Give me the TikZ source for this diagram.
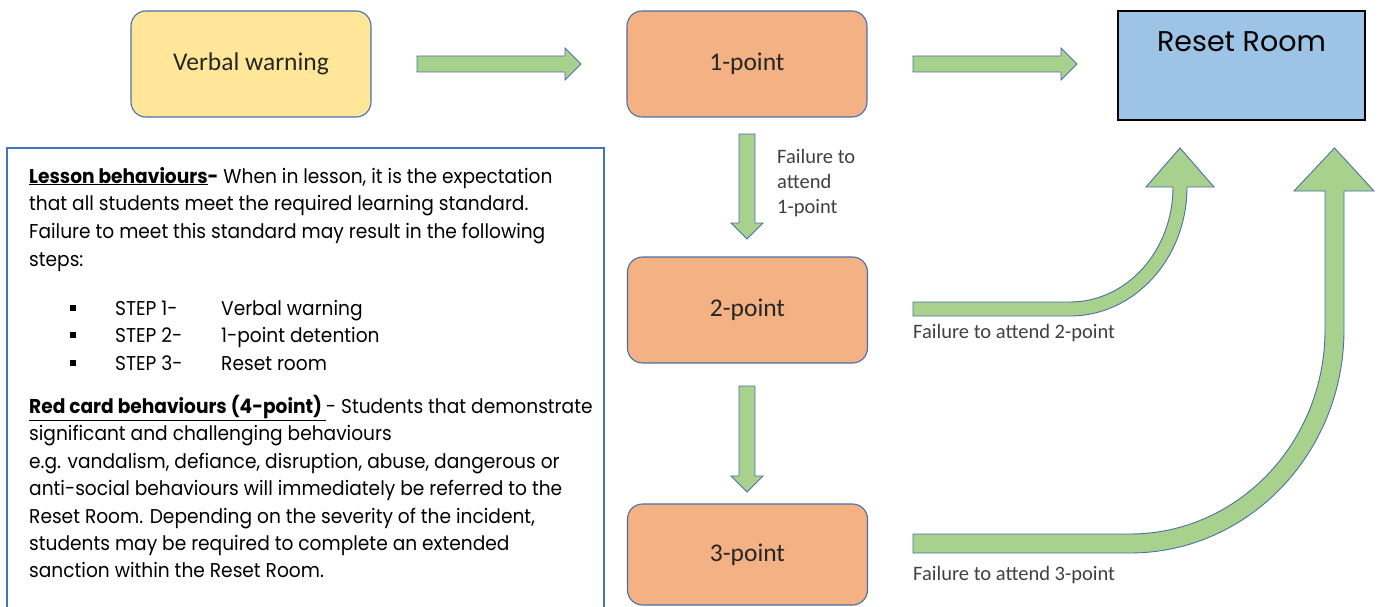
\documentclass[tikz,border=0pt]{standalone}
\usepackage{fontspec}
\setmainfont{Carlito}
\newfontfamily\gothic[FakeStretch=0.93]{Poppins}
\newfontfamily\gothicwide{Poppins}
\definecolor{yellowfill}{HTML}{FFE699}
\definecolor{orangefill}{HTML}{F4B183}
\definecolor{bluefill}{HTML}{9DC3E6}
\definecolor{greenfill}{HTML}{A9D18E}
\definecolor{outline}{HTML}{4A6FA5}
\definecolor{framecol}{HTML}{4472C4}
\definecolor{txt}{HTML}{262626}
\definecolor{lbl}{HTML}{404040}
\begin{document}
\begin{tikzpicture}[x=1pt,y=1pt,
  flowbox/.style={draw=outline, line width=1.1pt, rounded corners=15pt, minimum width=240pt, minimum height=106pt, inner sep=0pt, font=\fontsize{25.5}{30}\selectfont, text=txt},
  blockarrow/.style={draw=outline, line width=0.9pt, fill=greenfill, line join=miter},
  para/.style={anchor=base west, inner sep=0pt, font=\gothic\fontsize{20}{24}\selectfont, text=black},
  flabel/.style={anchor=base west, inner sep=0pt, font=\fontsize{20.5}{24}\selectfont, text=lbl}]
\useasboundingbox (0,0) rectangle (1379,-607);
% boxes
\node[flowbox, fill=yellowfill] (verbal) at (251,-64) {Verbal warning};
\node[flowbox, fill=orangefill] (p1) at (747,-64) {1-point};
\node[flowbox, fill=orangefill] (p2) at (747.5,-310) {2-point};
\node[flowbox, fill=orangefill, minimum height=101pt] (p3) at (747.5,-554.5) {3-point};
\node[draw=black, line width=1.4pt, fill=bluefill, minimum width=247pt, minimum height=109pt, inner sep=0pt] (reset) at (1241.5,-65.5) {};
\node[inner sep=0pt, font=\gothicwide\fontsize{28.5}{32}\selectfont, text=black] (resetlbl) at (1241.5,-42) {Reset Room};
% straight arrows
\draw[blockarrow] (417,-56) -- (565,-56) -- (565,-48) -- (581,-64) -- (565,-80) -- (565,-72) -- (417,-72) -- cycle;
\draw[blockarrow] (913,-56) -- (1061,-56) -- (1061,-48) -- (1077,-64) -- (1061,-80) -- (1061,-72) -- (913,-72) -- cycle;
\draw[blockarrow] (739,-134) -- (755,-134) -- (755,-223) -- (763,-223) -- (747,-239) -- (731,-223) -- (739,-223) -- cycle;
\draw[blockarrow] (739,-386) -- (755,-386) -- (755,-476) -- (763,-476) -- (747,-492) -- (731,-476) -- (739,-476) -- cycle;
% curved arrow from 2-point
\draw[blockarrow] (913,-316) -- (1070,-316) arc[start angle=270, end angle=360, x radius=117, y radius=129]
  -- (1214,-187) -- (1180,-148) -- (1146,-187) -- (1173,-187)
  arc[start angle=0, end angle=-90, x radius=103, y radius=115] -- (913,-302) -- cycle;
% curved arrow from 3-point
\draw[blockarrow] (913,-553) -- (1130,-553) arc[start angle=270, end angle=360, x radius=214, y radius=223]
  -- (1344,-191) -- (1374,-191) -- (1334.5,-148) -- (1294,-191) -- (1325,-191) -- (1325,-330)
  arc[start angle=0, end angle=-90, x radius=195, y radius=204] -- (913,-534) -- cycle;
% arrow labels
\node[flabel] (fa1a) at (777,-164) {Failure to};
\node[flabel] (fa1b) at (777,-188) {attend};
\node[flabel] (fa1c) at (777,-213) {1-point};
\node[flabel] (fa2) at (913,-338) {Failure to attend 2-point};
\node[flabel] (fa3) at (913,-580) {Failure to attend 3-point};
% text frame
\draw[framecol, line width=1.8pt] (7,-620) -- (7,-148) -- (604,-148) -- (604,-620);
\node[para] (l1) at (29,-183) {\textbf{\underline{Lesson behaviours}-} When in lesson, it is the expectation};
\node[para] (l2) at (29,-211) {that all students meet the required learning standard.};
\node[para] (l3) at (29,-238) {Failure to meet this standard may result in the following};
\node[para] (l4) at (29,-266) {steps:};
\fill (70,-311) rectangle (76,-305);
\fill (70,-338) rectangle (76,-332);
\fill (70,-366) rectangle (76,-360);
\node[para] (s1) at (115,-315) {STEP 1-};
\node[para] (s1b) at (221,-315) {Verbal warning};
\node[para] (s2) at (115,-342) {STEP 2-};
\node[para] (s2b) at (221,-342) {1-point detention};
\node[para] (s3) at (115,-370) {STEP 3-};
\node[para] (s3b) at (221,-370) {Reset room};
\node[para] (r1) at (29,-413) {\textbf{\underline{Red card behaviours (4-point)\ }}- Students that demonstrate};
\node[para] (r2) at (29,-440) {significant and challenging behaviours};
\node[para] (r3) at (29,-468) {e.g. vandalism, defiance, disruption, abuse, dangerous or};
\node[para] (r4) at (29,-495) {anti-social behaviours will immediately be referred to the};
\node[para] (r5) at (29,-523) {Reset Room. Depending on the severity of the incident,};
\node[para] (r6) at (29,-550) {students may be required to complete an extended};
\node[para] (r7) at (29,-577) {sanction within the Reset Room.};
\end{tikzpicture}
\end{document}
